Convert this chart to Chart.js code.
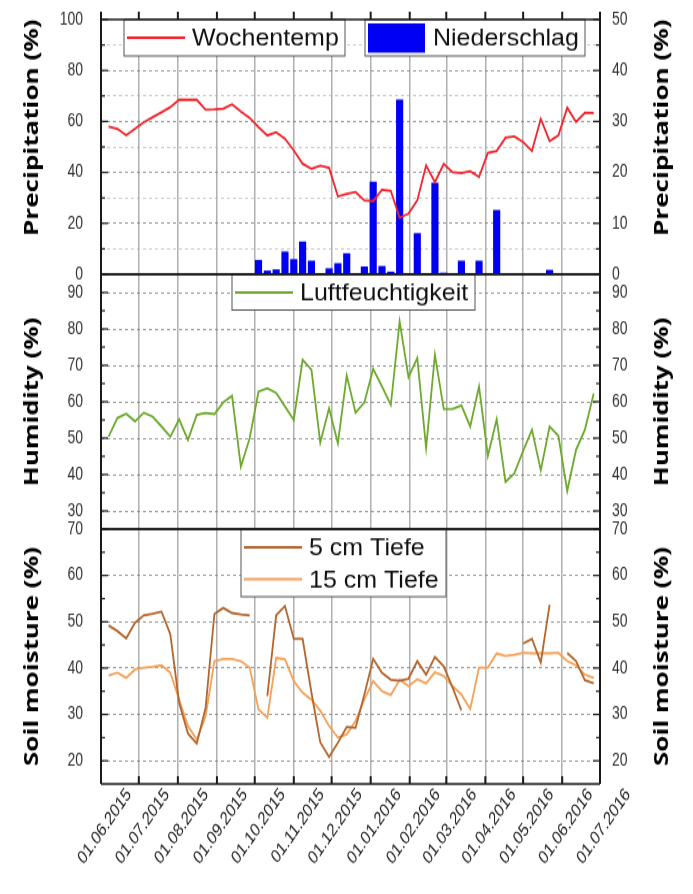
<!DOCTYPE html>
<html>
<head>
<meta charset="utf-8">
<script src="https://cdn.jsdelivr.net/npm/chart.js@4.4.1/dist/chart.umd.min.js"></script>
<style>
  html, body { margin: 0; padding: 0; background: #fff; width: 693px; height: 894px; overflow: hidden; }
  /* the original figure is stretched vertically, so the canvas is too */
  #wrap { width: 693px; height: 688px; transform: scaleY(1.3); transform-origin: 0 0; }
</style>
</head>
<body>
<div id="wrap"><canvas id="chart-klima" width="693" height="688"></canvas></div>
<script>
{ // scoping

  // x axis: month ticks
  const monthLabels = ['01.06.2015', '01.07.2015', '01.08.2015', '01.09.2015', '01.10.2015', '01.11.2015',
    '01.12.2015', '01.01.2016', '01.02.2016', '01.03.2016', '01.04.2016', '01.05.2016', '01.06.2016', '01.07.2016'];
  const firstWeek = '07.06.2015'; // weekly values from here on

  // top panel
  const wochentemp = [58.0, 57.1, 54.6, 57.1, 59.7, 61.7, 63.6, 65.6, 68.5, 68.5, 68.5, 64.6, 64.7, 65.0,
    66.7, 63.9, 61.4, 57.8, 54.5, 55.8, 53.2, 48.6, 43.4, 41.4, 42.7, 41.8, 30.6, 31.6, 32.3, 29.0,
    28.7, 33.2, 32.7, 22.2, 23.8, 29.0, 42.7, 36.2, 43.4, 40.1, 39.7, 40.5, 38.2, 47.7, 48.4, 53.6,
    54.1, 51.9, 48.4, 61.0, 52.3, 54.5, 65.4, 59.8, 63.4, 63.3];
  const niederschlag = [0, 0, 0, 0, 0, 0, 0, 0, 0, 0, 0, 0, 0, 0, 0, 0, 0, 5.5, 1.3, 1.8, 8.8, 5.8, 12.7,
    5.2, 0, 2.2, 4.2, 8.1, 0, 2.9, 36.2, 3.1, 0.9, 68.5, 0, 16.0, 0, 35.8, 0.5, 0, 5.2, 0, 5.2, 0, 25.1,
    0, 0, 0, 0, 0, 1.6, 0, 0, 0, 0, 0];
  const precipTicks = [0, 20, 40, 60, 80, 100];
  const precipMinor = [10, 30, 50, 70, 90];
  const precipTicksR = [0, 10, 20, 30, 40, 50];
  const precipMinorR = [5, 15, 25, 35, 45];

  // middle panel
  const luftfeuchte = [50.4, 55.5, 56.7, 54.6, 57.0, 55.9, 53.2, 50.4, 55.2, 49.5, 56.4, 56.9, 56.6, 59.8,
    61.6, 42.2, 50.0, 62.8, 63.7, 62.4, 58.7, 55.0, 71.5, 68.8, 48.8, 58.2, 48.6, 67.2, 57.0, 59.8,
    69.0, 64.2, 59.1, 82.0, 66.8, 72.0, 47.3, 72.9, 58.0, 58.0, 59.0, 53.2, 64.2, 45.1, 55.2, 38.0,
    40.3, 46.5, 52.3, 41.2, 53.2, 50.6, 35.5, 46.8, 52.3, 62.2];
  const humTicks = [30, 40, 50, 60, 70, 80, 90];
  const humMinor = [35, 45, 55, 65, 75, 85];

  // bottom panel
  const boden5 = [49.2, 48.0, 46.4, 49.8, 51.4, 51.7, 52.2, 47.3, 32.5, 25.9, 23.7, 31.4, 51.7, 53.0,
    51.9, 51.6, 51.4, null, 34.0, 51.4, 53.4, 46.3, 46.3, 34.7, 24.0, 20.8, 23.9, 27.3, 27.1, 34.3,
    42.0, 39.0, 37.5, 37.3, 37.7, 41.5, 38.6, 42.4, 40.4, 35.8, 30.9, null, null, null, null, null,
    null, 45.3, 46.3, 41.2, 53.7, null, 43.3, 41.5, 37.4, 36.7];
  const boden15 = [38.4, 39.0, 37.9, 39.7, 40.1, 40.3, 40.6, 39.0, 33.2, 27.5, 24.6, 29.6, 41.5, 42.0,
    42.0, 41.5, 40.1, 31.1, 29.3, 42.2, 41.9, 37.2, 34.7, 33.2, 30.8, 27.5, 25.0, 25.7, 28.6, 33.2,
    37.2, 35.0, 34.2, 37.5, 36.1, 37.6, 36.7, 39.1, 38.3, 36.1, 34.3, 31.2, 40.1, 40.1, 43.2, 42.6,
    42.9, 43.3, 43.2, 43.2, 43.2, 43.3, 41.5, 40.6, 38.6, 37.9];
  const soilTicks = [20, 30, 40, 50, 60, 70];
  const soilMinor = [25, 35, 45, 55, 65];

  const STRETCH = 1.3; // vertical stretch of the page, see #wrap

  // days since 01.06.2015
  function dayOf(label) {
    const [d, m, y] = label.split('.').map(Number);
    return (Date.UTC(y, m - 1, d) - Date.UTC(2015, 5, 1)) / 864e5;
  }
  const monthDays = monthLabels.map(dayOf);
  const weekDays = wochentemp.map((_, i) => dayOf(firstWeek) + 7 * i);
  const pts = vals => vals.map((v, i) => ({ x: weekDays[i], y: v }));

  const setTicks = vals => scale => { scale.ticks = vals.slice().sort((a, b) => a - b).map(v => ({ value: v })); };
  const gridColor = (major, edge) => c => {
    const v = c.tick.value;
    if (edge.includes(v)) return 'rgba(0,0,0,0)';
    return major.includes(v) ? 'rgba(130,130,130,0.8)' : 'rgba(180,180,180,0.7)';
  };

  const tickFont = { family: "'Liberation Sans', Arial, sans-serif", size: 14 };
  const titleFont = { family: "'Open Sans', sans-serif", size: 20, weight: 'bold' };

  // stacked y axes would otherwise push the chart area down by their label padding
  const fitY = w => s => { s.width = w; s.paddingTop = 0; s.paddingBottom = 0; };

  function leftAxis(min, max, major, minor, edge, title, align) {
    return {
      type: 'linear', position: 'left', stack: 'links', stackWeight: 1, min: min, max: max,
      afterBuildTicks: setTicks(major.concat(minor)),
      afterFit: fitY(101),
      ticks: { autoSkip: false, padding: 18, color: '#333', font: tickFont,
        callback: v => major.includes(v) ? v : '' },
      grid: { color: gridColor(major, edge), lineWidth: 1, drawTicks: false },
      border: { display: false, dash: [3, 3] },
      title: { display: true, text: title, align: align, color: '#000', font: titleFont, padding: { top: 20 } }
    };
  }
  function rightAxis(min, max, major, minor) {
    return {
      type: 'linear', position: 'right', stack: 'rechts', stackWeight: 1, min: min, max: max,
      afterBuildTicks: setTicks(major.concat(minor)),
      afterFit: fitY(93),
      ticks: { autoSkip: false, padding: 12, color: '#333', font: tickFont,
        callback: v => major.includes(v) ? v : '' },
      grid: { display: false, drawTicks: false },
      border: { display: false }
    };
  }

  function line(ctx, x1, y1, x2, y2) {
    ctx.beginPath(); ctx.moveTo(x1, y1); ctx.lineTo(x2, y2); ctx.stroke();
  }

  const legendFont = "25px 'Liberation Sans', Arial, sans-serif";
  function legendFrame(ctx, x, y, w, h) {
    ctx.fillStyle = '#fff';
    ctx.fillRect(x, y, w, h);
    ctx.strokeStyle = '#555';
    ctx.lineWidth = 1;
    ctx.strokeRect(x, y, w, h);
  }
  // legend text is not stretched in the original
  function legendText(ctx, text, x, y) {
    ctx.save();
    ctx.translate(x, y);
    ctx.scale(1, 1 / STRETCH);
    ctx.fillStyle = '#111';
    ctx.font = legendFont;
    ctx.textAlign = 'left';
    ctx.textBaseline = 'middle';
    ctx.fillText(text, 0, 1);
    ctx.restore();
  }
  function legendLine(ctx, ds, x, y) {
    ctx.strokeStyle = ds.borderColor;
    ctx.lineWidth = 2;
    line(ctx, x, y, x + 58, y);
    legendText(ctx, ds.label, x + 65, y);
  }

  // legends, frame, inward ticks and right-hand titles
  const framePlugin = {
    id: 'frame',
    afterDraw(chart) {
      const { ctx, chartArea: ca, scales: s } = chart;
      const ds = chart.data.datasets;
      ctx.save();

      let t = s.yT.top;
      legendFrame(ctx, 124, t, 221, 28);
      legendLine(ctx, ds[0], 127, t + 14);
      legendFrame(ctx, 365, t, 220, 28);
      ctx.fillStyle = ds[1].backgroundColor;
      ctx.fillRect(368, t + 3, 57, 22.5);
      legendText(ctx, ds[1].label, 433, t + 14);
      t = s.yM.top;
      legendFrame(ctx, 232, t, 243, 27.5);
      legendLine(ctx, ds[2], 235, t + 14);
      t = s.yB.top;
      legendFrame(ctx, 241, t, 205, 52);
      legendLine(ctx, ds[3], 244, t + 14);
      legendLine(ctx, ds[4], 244, t + 38.5);

      ctx.strokeStyle = '#1a1a1a';
      ctx.lineWidth = 1.3;
      ['yT', 'yM', 'yB'].forEach(id => {
        line(ctx, ca.left, s[id].top, ca.right, s[id].top);
        line(ctx, ca.left, s[id].bottom, ca.right, s[id].bottom);
      });
      ctx.lineWidth = 2;
      line(ctx, ca.left, ca.top - 6, ca.left, ca.bottom);
      line(ctx, ca.right, ca.top - 6, ca.right, ca.bottom);

      // y ticks, pointing inwards
      ctx.lineWidth = 1.2;
      const yTicks = (sc, major, minor, x, dir) => {
        major.forEach(v => { const y = sc.getPixelForValue(v); line(ctx, x, y, x + dir * 7, y); });
        minor.forEach(v => { const y = sc.getPixelForValue(v); line(ctx, x, y, x + dir * 4, y); });
      };
      yTicks(s.yT, precipTicks, precipMinor, ca.left, 1);
      yTicks(s.yM, humTicks, humMinor, ca.left, 1);
      yTicks(s.yB, soilTicks, soilMinor, ca.left, 1);
      yTicks(s.yTR, precipTicksR, precipMinorR, ca.right, -1);
      yTicks(s.yMR, humTicks, humMinor, ca.right, -1);
      yTicks(s.yBR, soilTicks, soilMinor, ca.right, -1);

      // x ticks: outwards on top, inwards at the bottom
      ctx.lineWidth = 2;
      monthDays.forEach(v => {
        const x = s.x.getPixelForValue(v);
        line(ctx, x, ca.top, x, ca.top - 6);
        line(ctx, x, ca.bottom, x, ca.bottom - 6);
      });

      // right titles read bottom to top like the left ones
      ctx.fillStyle = '#000';
      ctx.font = "bold 20px 'Open Sans', sans-serif";
      ctx.textBaseline = 'middle';
      const rTitle = (text, y, align) => {
        ctx.save();
        ctx.translate(662, y);
        ctx.rotate(-Math.PI / 2);
        ctx.textAlign = align;
        ctx.fillText(text, 0, 0);
        ctx.restore();
      };
      rTitle('Precipitation (%)', s.yTR.top, 'right');
      rTitle('Humidity (%)', (s.yMR.top + s.yMR.bottom) / 2, 'center');
      rTitle('Soil moisture (%)', (s.yBR.top + s.yBR.bottom) / 2, 'center');

      ctx.restore();
    }
  };

  const ctx = document.getElementById('chart-klima').getContext('2d');
  const myChart = new Chart(ctx, {
    type: 'line',
    data: {
      datasets: [{
        label: 'Wochentemp', data: pts(wochentemp), yAxisID: 'yT',
        borderColor: '#F0242A', borderWidth: 1.8, pointRadius: 0, order: 0
      }, {
        type: 'bar', label: 'Niederschlag', data: pts(niederschlag), yAxisID: 'yT',
        backgroundColor: '#0000F2', barThickness: 6.5, order: 1
      }, {
        label: 'Luftfeuchtigkeit', data: pts(luftfeuchte), yAxisID: 'yM',
        borderColor: '#6CA92C', borderWidth: 1.8, pointRadius: 0
      }, {
        label: '5 cm Tiefe', data: pts(boden5), yAxisID: 'yB',
        borderColor: '#B4652C', borderWidth: 1.8, pointRadius: 0, spanGaps: false
      }, {
        label: '15 cm Tiefe', data: pts(boden15), yAxisID: 'yB',
        borderColor: '#F5A158', borderWidth: 1.8, pointRadius: 0
      }]
    },
    options: {
      responsive: false,
      animation: false,
      events: [],
      layout: { padding: { top: 15, left: 0, right: 0, bottom: 0 } },
      plugins: { legend: { display: false }, tooltip: { enabled: false } },
      scales: {
        x: {
          type: 'linear', position: 'bottom', offset: false,
          min: monthDays[0], max: monthDays[monthDays.length - 1],
          afterBuildTicks: setTicks(monthDays),
          afterFit: s => { s.height = 85; },
          ticks: { autoSkip: false, minRotation: 48, maxRotation: 48, labelOffset: 28, padding: 0,
            color: '#222', font: { family: "'Liberation Sans', Arial, sans-serif", size: 14.5 },
            callback: (v, i) => monthLabels[i] },
          grid: { offset: false, color: 'rgba(150,150,150,0.75)', lineWidth: 1.5, drawTicks: false },
          border: { display: false }
        },
        // left stack: last one ends up on top
        yB: leftAxis(15, 70, soilTicks, [], [70], 'Soil moisture (%)', 'center'),
        yM: leftAxis(25, 95, humTicks, [], [], 'Humidity (%)', 'center'),
        yT: leftAxis(0, 100, precipTicks, precipMinor, [0, 100], 'Precipitation (%)', 'end'),
        yTR: rightAxis(0, 50, precipTicksR, precipMinorR),
        yMR: rightAxis(25, 95, humTicks, humMinor),
        yBR: rightAxis(15, 70, soilTicks, soilMinor)
      }
    },
    plugins: [framePlugin]
  });

} // scoping
</script>
</body>
</html>
